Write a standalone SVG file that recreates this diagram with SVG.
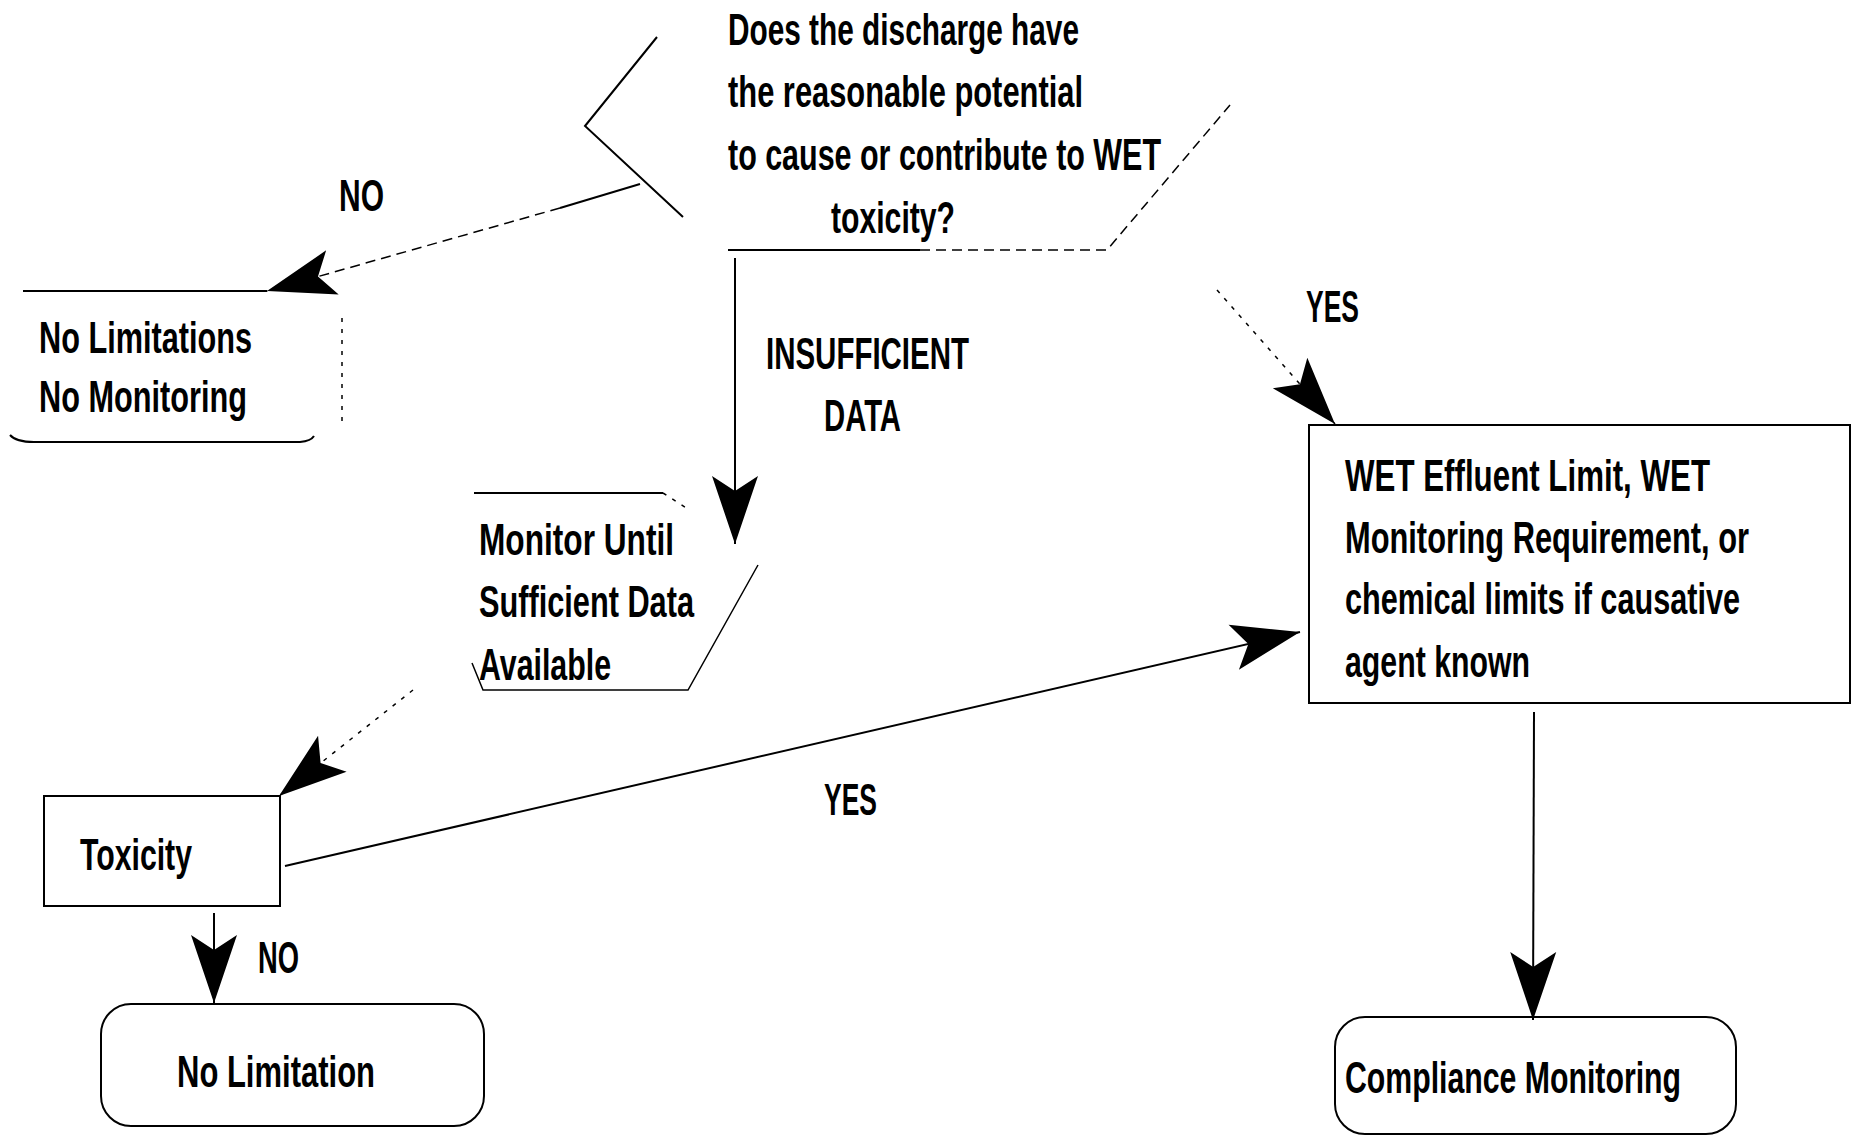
<svg xmlns="http://www.w3.org/2000/svg" width="1853" height="1136" viewBox="0 0 1853 1136">
  <style>
    .t { font-family: "Liberation Sans", Arial, sans-serif; font-weight: bold; font-size: 44px; fill: #000; }
    .s { fill: none; stroke: #000; stroke-width: 2; }
    .thin { fill: none; stroke: #000; stroke-width: 1.5; }
    .dash { stroke-dasharray: 10 6; }
    .dot { stroke-dasharray: 4 7; }
    .c { fill: none; stroke: #000; stroke-width: 2; marker-end: url(#ah); }
  </style>
  <defs>
    <marker id="ah" viewBox="-72 -25 74 50" markerUnits="userSpaceOnUse" markerWidth="74" markerHeight="50" refX="0" refY="0" orient="auto">
      <path d="M0,0 L-68,-23 L-53,0 L-68,23 Z" fill="#000"/>
    </marker>
  </defs>
  <rect width="1853" height="1136" fill="#fff"/>

  <g id="decision">
    <path class="s" d="M657,37 L585,126 L683,217"/>
    <path class="s" d="M728,250 L920,250"/>
    <path class="thin dash" d="M920,250 L1107,250 L1230,105"/>
    <text class="t" x="728" y="45" textLength="351" lengthAdjust="spacingAndGlyphs">Does the discharge have</text>
    <text class="t" x="728" y="107" textLength="355" lengthAdjust="spacingAndGlyphs">the reasonable potential</text>
    <text class="t" x="728" y="170" textLength="433" lengthAdjust="spacingAndGlyphs">to cause or contribute to WET</text>
    <text class="t" x="831" y="233" textLength="124" lengthAdjust="spacingAndGlyphs">toxicity?</text>
  </g>

  <g id="no-limitations">
    <path class="s" d="M23,291 L267,291"/>
    <path class="s" d="M10,435 Q16,442 34,442 L300,442 Q311,441 314,436"/>
    <path class="thin dot" d="M342,318 L342,425"/>
    <text class="t" x="39" y="353" textLength="213" lengthAdjust="spacingAndGlyphs">No Limitations</text>
    <text class="t" x="39" y="412" textLength="208" lengthAdjust="spacingAndGlyphs">No Monitoring</text>
  </g>

  <g id="monitor">
    <path class="s" d="M474,493 L663,493"/>
    <path class="thin dot" d="M663,493 L688,509"/>
    <path class="thin" d="M758,565 L688,690 L483,690 L472,663"/>
    <text class="t" x="479" y="555" textLength="195" lengthAdjust="spacingAndGlyphs">Monitor Until</text>
    <text class="t" x="479" y="617" textLength="215" lengthAdjust="spacingAndGlyphs">Sufficient Data</text>
    <text class="t" x="479" y="680" textLength="132" lengthAdjust="spacingAndGlyphs">Available</text>
  </g>

  <g id="toxicity">
    <rect class="s" x="44" y="796" width="236" height="110"/>
    <text class="t" x="80" y="870" textLength="112" lengthAdjust="spacingAndGlyphs">Toxicity</text>
  </g>

  <g id="wet-limit">
    <rect class="s" x="1309" y="425" width="541" height="278"/>
    <text class="t" x="1345" y="491" textLength="365" lengthAdjust="spacingAndGlyphs">WET Effluent Limit, WET</text>
    <text class="t" x="1345" y="553" textLength="404" lengthAdjust="spacingAndGlyphs">Monitoring Requirement, or</text>
    <text class="t" x="1345" y="614" textLength="395" lengthAdjust="spacingAndGlyphs">chemical limits if causative</text>
    <text class="t" x="1345" y="677" textLength="185" lengthAdjust="spacingAndGlyphs">agent known</text>
  </g>

  <g id="no-limitation">
    <rect class="s" x="101" y="1004" width="383" height="122" rx="30" ry="30"/>
    <text class="t" x="177" y="1087" textLength="198" lengthAdjust="spacingAndGlyphs">No Limitation</text>
  </g>

  <g id="compliance">
    <rect class="s" x="1335" y="1017" width="401" height="117" rx="30" ry="30"/>
    <text class="t" x="1345" y="1093" textLength="336" lengthAdjust="spacingAndGlyphs">Compliance Monitoring</text>
  </g>

  <g id="connectors">
    <path class="c" d="M640,184 L560,208" style="marker-end:none"/>
    <path class="c dash" style="stroke-width:1.5" d="M560,208 L267,291"/>
    <path class="c" d="M735,258 L735,544"/>
    <path class="c dot" style="stroke-width:1.5" d="M1217,290 L1335,424"/>
    <path class="c dot" style="stroke-width:1.5" d="M413,690 L279,796"/>
    <path class="c" d="M285,866 L1300,632"/>
    <path class="c" d="M214,913 L214,1003"/>
    <path class="c" d="M1534,712 L1533,1020"/>
    <text class="t" x="339" y="211" textLength="45" lengthAdjust="spacingAndGlyphs">NO</text>
    <text class="t" x="766" y="369" textLength="203" lengthAdjust="spacingAndGlyphs">INSUFFICIENT</text>
    <text class="t" x="824" y="431" textLength="77" lengthAdjust="spacingAndGlyphs">DATA</text>
    <text class="t" x="1306" y="322" textLength="53" lengthAdjust="spacingAndGlyphs">YES</text>
    <text class="t" x="824" y="815" textLength="53" lengthAdjust="spacingAndGlyphs">YES</text>
    <text class="t" x="258" y="973" textLength="41" lengthAdjust="spacingAndGlyphs">NO</text>
  </g>
</svg>
